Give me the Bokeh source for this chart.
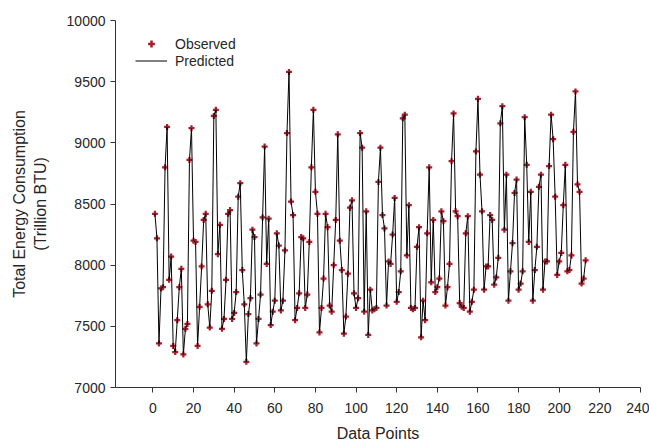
from bokeh.plotting import figure
from bokeh.models import Range1d, FixedTicker, Legend, LegendItem
from bokeh.embed import file_html
from bokeh.resources import INLINE

observed = [
    8420, 8220, 7360, 7810, 7820, 8800, 9130, 7880, 8070, 7340, 7290, 7550,
    7820, 7970, 7270, 7480, 7520, 8860, 9120, 8200, 8190, 7340, 7660, 7990,
    8370, 8420, 7680, 7490, 7790, 9220, 9270, 8090, 8330, 7480, 7560, 7880,
    8420, 8450, 7560, 7610, 7780, 8560, 8670, 7960, 7680, 7210, 7600, 7730,
    8290, 8230, 7360, 7560, 7760, 8390, 8970, 8010, 8380, 7510, 7620, 7710,
    8260, 8160, 7630, 7710, 8120, 9080, 9580, 8520, 8410, 7550, 7650, 7770,
    8230, 8220, 7650, 7760, 8190, 8800, 9270, 8600, 8420, 7450, 7650, 7890,
    8420, 8310, 7670, 7620, 8000, 8370, 9070, 8200, 7960, 7440, 7580, 7930,
    8470, 8530, 7770, 7650, 7730, 9080, 8960, 7620, 8440, 7430, 7800, 7630,
    7640, 7650, 8680, 8960, 8410, 8300, 7670, 8030, 8010, 8250, 8550, 7700,
    7780, 7950, 9200, 9230, 8080, 8490, 7650, 7640, 7650, 8150, 8310, 7410,
    7710, 7550, 8260, 8800, 7860, 8370, 7780, 7820, 7890, 8440, 8360, 7670,
    7820, 8010, 8850, 9240, 8440, 8400, 7690, 7660, 7650, 8260, 8400, 7620,
    7700, 7800, 8930, 9360, 8740, 8440, 7800, 7990, 7990, 8410, 8370, 7840,
    7900, 8060, 9160, 9300, 8290, 8740, 7710, 7950, 8180, 8590, 8700, 7800,
    7850, 7950, 9210, 8820, 8190, 8600, 7710, 7960, 8150, 8640, 8740, 7800,
    8030, 8030, 8810, 9230, 9030, 8560, 7920, 8030, 8100, 8490, 8820, 7950,
    7960, 8080, 9090, 9420, 8660, 8600, 7850, 7890, 8040,
]
predicted = list(observed)
data_points = list(range(1, len(observed) + 1))

x_ticks = [0, 20, 40, 60, 80, 100, 120, 140, 160, 180, 200, 220, 240]
y_ticks = [7000, 7500, 8000, 8500, 9000, 9500, 10000]

FONT = "Liberation Sans"
TXT = "#262626"
RED = "#a3202f"

p = figure(width=649, height=445, output_backend="svg", toolbar_location=None,
           x_range=Range1d(-18.4, 240), y_range=Range1d(7000, 10000),
           min_border_left=115, min_border_right=9, min_border_top=20,
           min_border_bottom=58)
p.outline_line_color = None
p.xgrid.visible = False
p.ygrid.visible = False
p.background_fill_color = "white"
p.border_fill_color = "white"

obs_r = p.scatter(data_points, observed, marker="plus", size=6,
                  fill_color=RED, line_color=RED, line_width=0)
pred_r = p.line(data_points, predicted, line_color="black", line_width=1)

for ax in (p.xaxis[0], p.yaxis[0]):
    ax.axis_line_color = "#333333"
    ax.major_tick_line_color = "#333333"
    ax.major_tick_out = 5
    ax.major_tick_in = 0
    ax.minor_tick_line_color = None
    ax.major_label_text_font = FONT
    ax.major_label_text_font_size = "14px"
    ax.major_label_text_color = TXT
    ax.axis_label_text_font = FONT
    ax.axis_label_text_font_size = "16px"
    ax.axis_label_text_font_style = "normal"
    ax.axis_label_text_color = TXT

p.xaxis.ticker = FixedTicker(ticks=x_ticks)
p.yaxis.ticker = FixedTicker(ticks=y_ticks)
p.xaxis.axis_label = "Data Points"
p.yaxis.axis_label = "Total Energy Consumption\n(Trillion BTU)"
p.xaxis.major_label_standoff = 10
p.xaxis.axis_label_standoff = 9
p.yaxis.major_label_standoff = 5
p.yaxis.axis_label_standoff = 15

legend = Legend(items=[LegendItem(label="Observed", renderers=[obs_r]),
                       LegendItem(label="Predicted", renderers=[pred_r])],
                location=(20, 318))
legend.border_line_color = None
legend.background_fill_alpha = 0
legend.padding = 0
legend.margin = 0
legend.spacing = 0
legend.glyph_width = 32
legend.glyph_height = 17
legend.label_height = 17
legend.label_standoff = 8
legend.label_text_font = FONT
legend.label_text_font_size = "14px"
legend.label_text_color = TXT
p.add_layout(legend)

open("out.html", "w").write(file_html(p, INLINE))
